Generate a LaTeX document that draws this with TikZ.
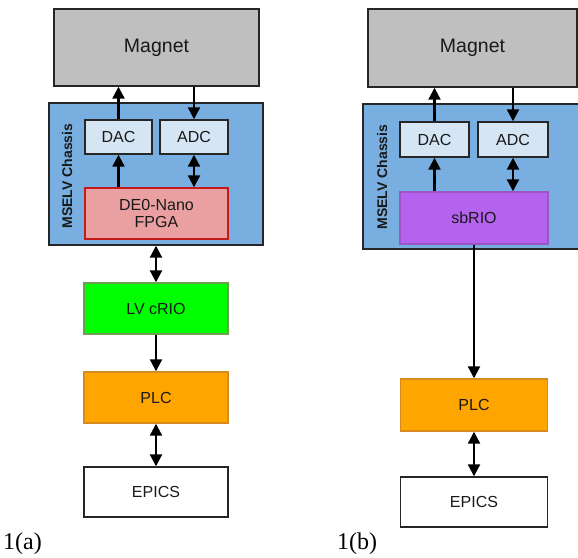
\documentclass[tikz,border=0pt]{standalone}
\usepackage{fontspec}
\setmainfont{Liberation Sans}
\newfontfamily\serifx{Liberation Serif}
\usetikzlibrary{arrows.meta}
\definecolor{magnetgray}{HTML}{BFBFBF}
\definecolor{chassisblue}{HTML}{78AEE0}
\definecolor{convblue}{HTML}{D5E5F4}
\definecolor{fpgared}{HTML}{EAA0A0}
\definecolor{fpgaborder}{HTML}{C41A1A}
\definecolor{sbrio}{HTML}{B562EE}
\definecolor{sbrioborder}{HTML}{9B55C8}
\definecolor{criogreen}{HTML}{00FF00}
\definecolor{crioborder}{HTML}{6E9E50}
\definecolor{plcorange}{HTML}{FFA500}
\definecolor{plcborder}{HTML}{D98A1E}
\definecolor{darkline}{HTML}{262626}
\tikzset{
  box/.style={draw=darkline, line width=1.4pt, inner sep=0pt, text=black!90, font=\fontsize{16}{18}\selectfont, align=center},
  magnetbox/.style={box, fill=magnetgray, font=\fontsize{19.5}{21}\selectfont},
  chassisbox/.style={box, fill=chassisblue},
  convbox/.style={box, fill=convblue},
  fpgabox/.style={box, fill=fpgared, draw=fpgaborder},
  sbriobox/.style={box, fill=sbrio, draw=sbrioborder},
  criobox/.style={box, fill=criogreen, draw=crioborder},
  plcbox/.style={box, fill=plcorange, draw=plcborder},
  epicsbox/.style={box, fill=white},
  chlabel/.style={rotate=90, font=\bfseries\fontsize{14}{16}\selectfont, text=black!90},
  caplabel/.style={font=\serifx\fontsize{24}{26}\selectfont, text=black},
  conn/.style={line width=2.2pt, black, -{Triangle[width=12pt,length=12pt]}},
  biconn/.style={line width=2.2pt, black, {Triangle[width=12pt,length=12pt]}-{Triangle[width=12pt,length=12pt]}},
  plainconn/.style={line width=2.2pt, black}
}
\begin{document}
\begin{tikzpicture}[x=1pt,y=-1pt]
\clip (0,0) rectangle (578,557);
\fill[white] (0,0) rectangle (578,557);

% ---------- 1(a) ----------
\node[magnetbox, minimum width=205pt, minimum height=77pt] (magA) at (156.5,47.5) {Magnet};
\node[chassisbox, minimum width=214pt, minimum height=142pt] (chA) at (156,174) {};
\node[chlabel] (chlabA) at (67,176) {MSELV Chassis};
\node[convbox, minimum width=67pt, minimum height=34pt] (dacA) at (118.5,137) {DAC};
\node[convbox, minimum width=68pt, minimum height=34pt] (adcA) at (194,137) {ADC};
\node[fpgabox, minimum width=143pt, minimum height=51pt] (fpgaA) at (156.5,213.5) {DE0-Nano\\[-1pt]FPGA};
\node[criobox, minimum width=144pt, minimum height=51pt] (crioA) at (156,308.5) {LV cRIO};
\node[plcbox, minimum width=144pt, minimum height=51pt] (plcA) at (156,397.5) {PLC};
\node[epicsbox, minimum width=144pt, minimum height=50pt] (epicsA) at (156,492) {EPICS};
\node[caplabel, anchor=west, inner sep=0pt] (capA) at (3,544) {1(a)};

\draw[conn] (dacA.north) -- (dacA.north |- magA.south);
\draw[conn] (adcA.north |- magA.south) -- (adcA.north);
\draw[conn] (dacA.south |- fpgaA.north) -- (dacA.south);
\draw[biconn] (adcA.south) -- (adcA.south |- fpgaA.north);
\draw[biconn] (chA.south) -- (crioA.north);
\draw[conn] (crioA.south) -- (plcA.north);
\draw[biconn] (plcA.south) -- (epicsA.north);

% ---------- 1(b) ----------
\node[magnetbox, minimum width=209pt, minimum height=78pt] (magB) at (472.5,48) {Magnet};
\node[chassisbox, minimum width=230pt, minimum height=145pt] (chB) at (478,176.5) {};
\node[chlabel] (chlabB) at (382,177) {MSELV Chassis};
\node[convbox, minimum width=69pt, minimum height=35pt] (dacB) at (434.5,139.5) {DAC};
\node[convbox, minimum width=70pt, minimum height=35pt] (adcB) at (513,139.5) {ADC};
\node[sbriobox, minimum width=148pt, minimum height=52pt] (sbB) at (474,218) {sbRIO};
\node[plcbox, minimum width=147pt, minimum height=52pt] (plcB) at (474,405) {PLC};
\node[epicsbox, minimum width=147pt, minimum height=50pt] (epicsB) at (474,502) {EPICS};
\node[caplabel, anchor=west, inner sep=0pt] (capB) at (337,544) {1(b)};

\draw[conn] (dacB.north) -- (dacB.north |- magB.south);
\draw[conn] (adcB.north |- magB.south) -- (adcB.north);
\draw[conn] (dacB.south |- sbB.north) -- (dacB.south);
\draw[biconn] (adcB.south) -- (adcB.south |- sbB.north);
\draw[conn] (sbB.south) -- (plcB.north);
\draw[biconn] (plcB.south) -- (epicsB.north);
\end{tikzpicture}
\end{document}
